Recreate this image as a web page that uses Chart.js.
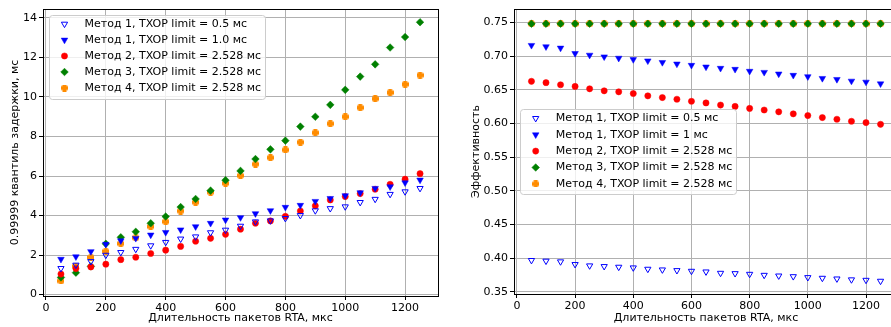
<!DOCTYPE html>
<html>
<head>
<meta charset="utf-8">
<script src="https://cdn.jsdelivr.net/npm/chart.js"></script>
<style>
html, body { margin: 0; padding: 0; background: #fff; overflow: hidden; }
#wrap { position: relative; width: 891px; height: 327px; overflow: hidden; }
#delay { position: absolute; left: 0; top: 0; }
#eff { position: absolute; left: 470px; top: 0; }
</style>
</head>
<body>
<div id="wrap">
<canvas id="delay" width="445" height="327"></canvas>
<canvas id="eff" width="440" height="327"></canvas>
</div>
<script>
// RTA packet duration, us
var rtaDuration = [50, 100, 150, 200, 250, 300, 350, 400, 450, 500, 550, 600, 650,
                   700, 750, 800, 850, 900, 950, 1000, 1050, 1100, 1150, 1200, 1250];

// 0.99999 delay quantile, ms
var delayM1Txop05 = [1.33, 1.50, 1.68, 2.00, 2.14, 2.30, 2.48, 2.65, 2.82, 2.93, 3.14, 3.27, 3.47,
                     3.69, 3.74, 3.86, 4.01, 4.25, 4.36, 4.45, 4.67, 4.83, 5.08, 5.21, 5.38];
var delayM1Txop10 = [1.79, 1.92, 2.18, 2.55, 2.73, 2.85, 3.02, 3.15, 3.28, 3.44, 3.61, 3.78, 3.90,
                     4.10, 4.25, 4.42, 4.52, 4.72, 4.87, 5.01, 5.16, 5.38, 5.46, 5.66, 5.80];
var delayM2 = [1.04, 1.32, 1.40, 1.54, 1.77, 1.89, 2.08, 2.25, 2.44, 2.70, 2.85, 3.05, 3.31,
               3.61, 3.73, 3.96, 4.23, 4.49, 4.79, 4.96, 5.11, 5.33, 5.58, 5.84, 6.12];
var delayM3 = [0.87, 1.11, 1.43, 2.57, 2.90, 3.18, 3.61, 3.95, 4.43, 4.84, 5.26, 5.79, 6.26,
               6.86, 7.35, 7.79, 8.50, 9.00, 9.60, 10.36, 11.03, 11.65, 12.50, 13.03, 13.78];
var delayM4 = [0.69, 1.44, 1.88, 2.19, 2.58, 2.88, 3.44, 3.69, 4.23, 4.67, 5.18, 5.63, 6.02,
               6.60, 6.93, 7.32, 7.71, 8.19, 8.65, 9.00, 9.46, 9.91, 10.22, 10.64, 11.10];

// efficiency
var effM1Txop05 = [0.397, 0.396, 0.395, 0.391, 0.389, 0.388, 0.387, 0.386, 0.384, 0.383, 0.382, 0.381, 0.380,
                   0.378, 0.3775, 0.3765, 0.375, 0.374, 0.373, 0.3716, 0.3706, 0.3696, 0.3683, 0.3676, 0.3662];
var effM1Txop1 = [0.716, 0.714, 0.712, 0.704, 0.7015, 0.699, 0.697, 0.695, 0.693, 0.6907, 0.6884, 0.6864, 0.684,
                  0.682, 0.6805, 0.6776, 0.676, 0.6736, 0.6716, 0.6696, 0.667, 0.6655, 0.663, 0.6615, 0.659];
var effM2 = [0.6626, 0.6606, 0.6575, 0.655, 0.6515, 0.6485, 0.647, 0.6445, 0.641, 0.6385, 0.636, 0.633, 0.6305,
             0.6274, 0.6254, 0.6224, 0.620, 0.6173, 0.6143, 0.6118, 0.6088, 0.6063, 0.6033, 0.6013, 0.5988];
var effM3 = [0.748, 0.748, 0.748, 0.748, 0.748, 0.748, 0.748, 0.748, 0.748, 0.748, 0.748, 0.748, 0.748,
             0.748, 0.748, 0.748, 0.748, 0.748, 0.748, 0.748, 0.748, 0.748, 0.748, 0.748, 0.748];
var effM4 = [0.748, 0.748, 0.748, 0.748, 0.748, 0.748, 0.748, 0.748, 0.748, 0.748, 0.748, 0.748, 0.748,
             0.748, 0.748, 0.748, 0.748, 0.748, 0.748, 0.748, 0.748, 0.748, 0.748, 0.748, 0.748];

var xTicks = [0, 200, 400, 600, 800, 1000, 1200];
var delayTicks = [0, 2, 4, 6, 8, 10, 12, 14];
var effTicks = [0.35, 0.40, 0.45, 0.50, 0.55, 0.60, 0.65, 0.70, 0.75];

var delayLabels = ["Метод 1, TXOP limit = 0.5 мс", "Метод 1, TXOP limit = 1.0 мс",
                   "Метод 2, TXOP limit = 2.528 мс", "Метод 3, TXOP limit = 2.528 мс",
                   "Метод 4, TXOP limit = 2.528 мс"];
var effLabels = ["Метод 1, TXOP limit = 0.5 мс", "Метод 1, TXOP limit = 1 мс",
                 "Метод 2, TXOP limit = 2.528 мс", "Метод 3, TXOP limit = 2.528 мс",
                 "Метод 4, TXOP limit = 2.528 мс"];

var FONT = { family: "'DejaVu Sans', sans-serif", size: 11 };

// filled plus marker for method 4
var plusMark = document.createElement('canvas');
plusMark.width = 7; plusMark.height = 7;
(function () {
  var c = plusMark.getContext('2d');
  c.fillStyle = '#ff8c00';
  c.fillRect(1.5, 0, 4, 7);
  c.fillRect(0, 1.5, 7, 4);
})();

var styles = [
  { pointStyle: 'triangle', pointRotation: 180, pointRadius: 3.6, pointBackgroundColor: 'rgba(0,0,0,0)', pointBorderColor: '#0000ff', pointBorderWidth: 1 },
  { pointStyle: 'triangle', pointRotation: 180, pointRadius: 3.8, pointBackgroundColor: '#0000ff', pointBorderColor: '#0000ff', pointBorderWidth: 0.5 },
  { pointStyle: 'circle', pointRotation: 0, pointRadius: 3.1, pointBackgroundColor: '#ff0000', pointBorderColor: '#ff0000', pointBorderWidth: 0.5 },
  { pointStyle: 'rectRot', pointRotation: 0, pointRadius: 3.8, pointBackgroundColor: '#008000', pointBorderColor: '#008000', pointBorderWidth: 0.5 },
  { pointStyle: plusMark, pointRotation: 0, pointRadius: 3.5, pointBackgroundColor: '#ff8c00', pointBorderColor: '#ff8c00', pointBorderWidth: 0 }
];

function makeSets(series, labels) {
  return series.map(function (vals, i) {
    var ds = {
      label: labels[i],
      data: rtaDuration.map(function (x, j) { return { x: x, y: vals[j] }; }),
      showLine: false,
      pointHoverRadius: styles[i].pointRadius
    };
    for (var k in styles[i]) ds[k] = styles[i][k];
    return ds;
  });
}

function roundRect(ctx, x, y, w, h, r) {
  ctx.moveTo(x + r, y);
  ctx.lineTo(x + w - r, y); ctx.arcTo(x + w, y, x + w, y + r, r);
  ctx.lineTo(x + w, y + h - r); ctx.arcTo(x + w, y + h, x + w - r, y + h, r);
  ctx.lineTo(x + r, y + h); ctx.arcTo(x, y + h, x, y + h - r, r);
  ctx.lineTo(x, y + r); ctx.arcTo(x, y, x + r, y, r);
  ctx.closePath();
}

// black frame round the plot area
var frame = {
  id: 'frame',
  afterDatasetsDraw: function (chart) {
    var a = chart.chartArea, ctx = chart.ctx;
    ctx.save();
    ctx.strokeStyle = '#000';
    ctx.lineWidth = 1;
    var l = Math.round(a.left) + 0.5, t = Math.round(a.top) + 0.5;
    ctx.strokeRect(l, t, Math.round(a.right) - Math.round(a.left), Math.round(a.bottom) - Math.round(a.top));
    ctx.restore();
  }
};

// matplotlib-like legend box inside the axes
var boxLegend = {
  id: 'boxLegend',
  afterDraw: function (chart, args, o) {
    var ctx = chart.ctx;
    ctx.save();
    ctx.beginPath();
    roundRect(ctx, o.x + 0.5, o.y + 0.5, o.w, o.h, 3);
    ctx.fillStyle = 'rgba(255,255,255,0.8)';
    ctx.fill();
    ctx.strokeStyle = '#cccccc';
    ctx.lineWidth = 1;
    ctx.stroke();
    chart.data.datasets.forEach(function (ds, i) {
      var cy = o.firstRow + i * o.rowH;
      ctx.fillStyle = ds.pointBackgroundColor;
      ctx.strokeStyle = ds.pointBorderColor;
      ctx.lineWidth = ds.pointBorderWidth;
      Chart.helpers.drawPoint(ctx, {
        pointStyle: ds.pointStyle, radius: ds.pointRadius,
        rotation: ds.pointRotation, borderWidth: ds.pointBorderWidth
      }, o.markerX, cy);
      ctx.fillStyle = '#000';
      ctx.font = FONT.size + 'px ' + FONT.family;
      ctx.textBaseline = 'middle';
      ctx.textAlign = 'left';
      ctx.fillText(ds.label, o.textX, cy);
    });
    ctx.restore();
  }
};

function setTicks(list) {
  return function (scale) { scale.ticks = list.map(function (v) { return { value: v }; }); };
}

function options(cfg) {
  return {
    responsive: false,
    animation: false,
    events: [],
    layout: { padding: cfg.padding },
    plugins: {
      legend: { display: false },
      tooltip: { enabled: false },
      boxLegend: cfg.legend
    },
    scales: {
      x: {
        type: 'linear', min: -10, max: 1310,
        afterBuildTicks: setTicks(xTicks),
        afterFit: function (s) { s.height = cfg.xHeight; },
        grid: { color: '#b0b0b0', lineWidth: 1, tickColor: '#000', tickLength: 4 },
        border: { display: false },
        ticks: { color: '#000', font: FONT, padding: 2, maxRotation: 0, autoSkip: false,
                 callback: function (v) { return String(v); } },
        title: { display: true, text: 'Длительность пакетов RTA, мкс', color: '#000', font: FONT, padding: { top: 0, bottom: 2 } }
      },
      y: {
        type: 'linear', min: cfg.yMin, max: cfg.yMax,
        afterBuildTicks: setTicks(cfg.yTicks),
        afterFit: function (s) { s.width = cfg.yWidth; },
        grid: { color: '#b0b0b0', lineWidth: 1, tickColor: '#000', tickLength: 4 },
        border: { display: false },
        ticks: { color: '#000', font: FONT, padding: 2, autoSkip: false, callback: cfg.fmt },
        title: { display: true, text: cfg.yTitle, color: '#000', font: FONT, padding: { top: cfg.yTitlePad, bottom: 0 } }
      }
    }
  };
}

new Chart(document.getElementById('delay'), {
  type: 'scatter',
  data: { datasets: makeSets([delayM1Txop05, delayM1Txop10, delayM2, delayM3, delayM4], delayLabels) },
  options: options({
    padding: { left: 0, right: 7, top: 9, bottom: 0 },
    xHeight: 31, yWidth: 43, yTitlePad: 8.5,
    yMin: -0.07, yMax: 14.45, yTicks: delayTicks,
    fmt: function (v) { return String(v); },
    yTitle: '0.99999 квантиль задержки, мс',
    legend: { x: 49, y: 15, w: 216, h: 84, firstRow: 24, rowH: 16, markerX: 64.5, textX: 84.5 }
  }),
  plugins: [frame, boxLegend]
});

new Chart(document.getElementById('eff'), {
  type: 'scatter',
  data: { datasets: makeSets([effM1Txop05, effM1Txop1, effM2, effM3, effM4], effLabels) },
  options: options({
    padding: { left: 0, right: 12, top: 9, bottom: 0 },
    xHeight: 33, yWidth: 44, yTitlePad: 0,
    yMin: 0.347, yMax: 0.7699, yTicks: effTicks,
    fmt: function (v) { return v.toFixed(2); },
    yTitle: 'Эффективность',
    legend: { x: 50, y: 109, w: 216, h: 85, firstRow: 118.3, rowH: 16.4, markerX: 65.7, textX: 85.7 }
  }),
  plugins: [frame, boxLegend]
});
</script>
</body>
</html>
